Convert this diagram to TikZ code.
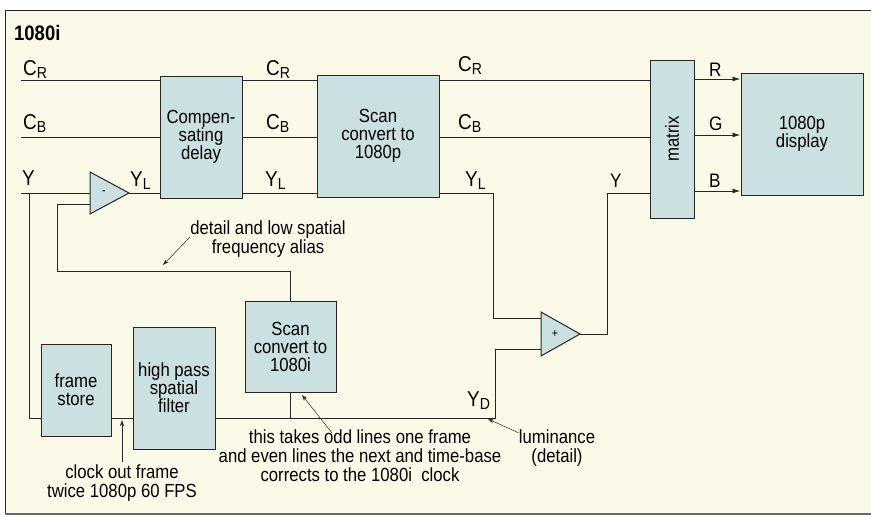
\documentclass[tikz,border=0pt]{standalone}
\usepackage{fontspec}
\setmainfont{Liberation Sans}[FakeStretch=0.88]
\usetikzlibrary{arrows.meta,calc}
\definecolor{paper}{HTML}{FBFAE8}
\definecolor{boxfill}{HTML}{CBE0E0}
\definecolor{ink}{HTML}{262626}
\newcommand\sigl[2]{{\fontsize{21.5}{21}\selectfont #1}\raisebox{-0.35ex}{\fontsize{16}{16}\selectfont #2}}
\begin{document}
\begin{tikzpicture}[x=1pt,y=-1pt,
  blk/.style={draw=ink, fill=boxfill, line width=1pt, inner sep=0pt, align=center,
    font=\fontsize{19}{18}\selectfont},
  wire/.style={draw=ink, line width=1pt},
  note/.style={align=center, font=\fontsize{19}{18.8}\selectfont, inner sep=0pt},
  pointer/.style={draw=ink, line width=0.5pt, -{Stealth[length=6pt,width=4pt]}},
  sig/.style={inner sep=0pt, anchor=base west, font=\fontsize{19.5}{18}\selectfont},
  rgbarrow/.style={wire, -{Latex[length=8pt,width=5pt]}}]
\useasboundingbox (0,0) rectangle (871,517);
\fill[white] (0,0) rectangle (871,517);
\fill[paper] (5,10) rectangle (871,514);
\draw[ink, line width=1pt] (871,10) -- (5,10) -- (5,514);
\draw[ink!70, line width=2pt] (5,514) -- (871,514);

\node[anchor=base west, inner sep=0pt, font=\fontsize{21}{21}\selectfont\bfseries] (title) at (14,40) {1080i};

% blocks
\node[blk, minimum width=82pt, minimum height=122pt] (delay) at (201,137) {Compen-\\sating\\delay};
\node[blk, minimum width=122pt, minimum height=122pt] (scanp) at (378,136) {Scan\\convert to\\1080p};
\node[blk, minimum width=44pt, minimum height=158pt] (matrix) at (672,139) {\rotatebox{90}{matrix}};
\node[blk, minimum width=122pt, minimum height=122pt] (display) at (802,134) {1080p\\display};
\node[blk, minimum width=70pt, minimum height=92pt] (fstore) at (76,390) {frame\\store};
\node[blk, minimum width=82pt, minimum height=122pt] (hpf) at (174,388) {high pass\\spatial\\filter};
\node[blk, minimum width=91pt, minimum height=91pt] (scani) at (290.5,346.5) {Scan\\convert to\\1080i};

% amplifiers
\draw[wire, fill=boxfill] (90,172) -- (129,193) -- (90,214) -- cycle;
\node[font=\fontsize{12}{12}\selectfont, inner sep=0pt] (minus) at (104,193) {-};
\coordinate (mA) at (90,193);
\coordinate (mB) at (90,204);
\coordinate (mO) at (129,193);
\draw[wire, fill=boxfill] (541,312) -- (580,334) -- (541,356) -- cycle;
\node[font=\fontsize{12}{12}\selectfont, inner sep=0pt] (plus) at (555,334) {+};
\coordinate (pA) at (541,318);
\coordinate (pB) at (541,349);
\coordinate (pO) at (580,334);

% signal lines
\coordinate (inCR) at (21,80);
\coordinate (inCB) at (21,137);
\coordinate (inY) at (21,193);
\coordinate (ytap) at (29,193);
\coordinate (lowY) at (0,418);
\draw[wire] (inCR) -- (inCR -| delay.west);
\draw[wire] (inCR -| delay.east) -- (inCR -| scanp.west);
\draw[wire] (inCR -| scanp.east) -- (inCR -| matrix.west);
\draw[wire] (inCB) -- (inCB -| delay.west);
\draw[wire] (inCB -| delay.east) -- (inCB -| scanp.west);
\draw[wire] (inCB -| scanp.east) -- (inCB -| matrix.west);
\draw[wire] (inY) -- (mA);
\draw[wire] (mO) -- (mO -| delay.west);
\draw[wire] (mO -| delay.east) -- (mO -| scanp.west);
\draw[wire] (mO -| scanp.east) -- ++(54,0) |- (pA);
\draw[wire] (ytap) |- (fstore.west |- lowY);
\draw[wire] (fstore.east |- lowY) -- (hpf.west |- lowY);
\draw[wire] (hpf.east |- lowY) -| ($(pB)+(-46,0)$) -- (pB);
\draw[wire] (scani.south) -- (scani.south |- lowY);
\draw[wire] (scani.north) |- (57,271) |- (mB);
\draw[wire] (pO) -- ++(27,0) |- (matrix.west |- mO);
\draw[rgbarrow] (matrix.east |- 0,79) -- (display.west |- 0,79);
\draw[rgbarrow] (matrix.east |- 0,135) -- (display.west |- 0,135);
\draw[rgbarrow] (matrix.east |- 0,191) -- (display.west |- 0,191);

% signal labels
\node[sig] (lCR1) at (23,75) {\sigl{C}{R}};
\node[sig] (lCB1) at (23,129) {\sigl{C}{B}};
\node[sig] (lY1) at (22,185) {\sigl{Y}{}};
\node[sig] (lYL1) at (130,186) {\sigl{Y}{L}};
\node[sig] (lCR2) at (266,75) {\sigl{C}{R}};
\node[sig] (lCB2) at (266,129) {\sigl{C}{B}};
\node[sig] (lYL2) at (265,186) {\sigl{Y}{L}};
\node[sig] (lCR3) at (458,71) {\sigl{C}{R}};
\node[sig] (lCB3) at (458,129) {\sigl{C}{B}};
\node[sig] (lYL3) at (465,186) {\sigl{Y}{L}};
\node[sig] (lY4) at (610,187) {Y};
\node[sig] (lR) at (709,76) {R};
\node[sig] (lG) at (709,130) {G};
\node[sig] (lB) at (709,187) {B};
\node[sig] (lYD) at (467,406) {\sigl{Y}{D}};

% notes
\node[note] (n1) at (268,239) {detail and low spatial\\frequency alias};
\node[note] (n2) at (360,456) {this takes odd lines one frame\\and even lines the next and time-base\\corrects to the 1080i\ \ clock};
\node[note] (n3) at (557,448) {luminance\\(detail)};
\node[note] (n4) at (122,483) {clock out frame\\twice 1080p 60 FPS};

\coordinate (t1) at (190,237); \coordinate (h1) at (163,265);
\coordinate (t2) at (332,433); \coordinate (h2) at (302,395);
\coordinate (t3) at (519,433); \coordinate (h3) at (488,419);
\coordinate (t4) at (122,462); \coordinate (h4) at (122,420);
\draw[pointer] (t1) -- (h1);
\draw[pointer] (t2) -- (h2);
\draw[pointer] (t3) -- (h3);
\draw[pointer] (t4) -- (h4);
\end{tikzpicture}
\end{document}
